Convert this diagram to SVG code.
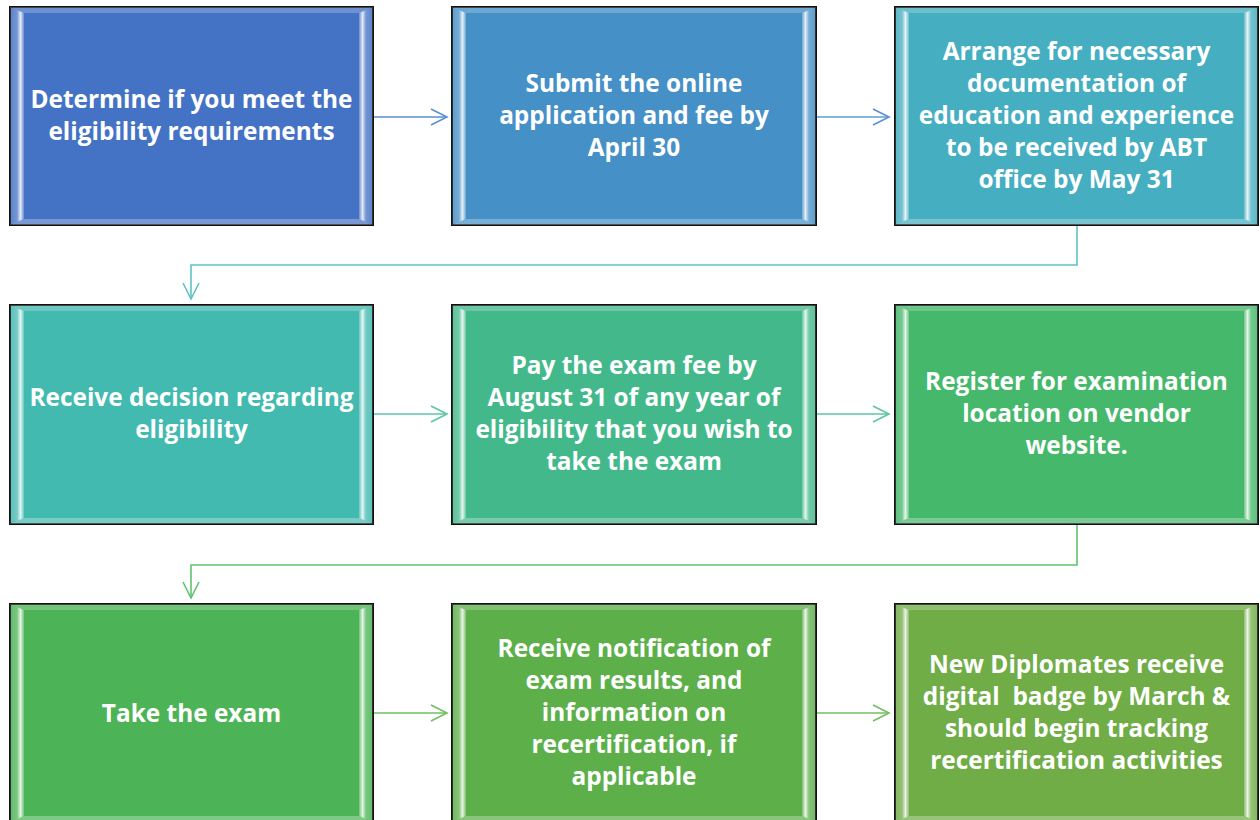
<svg xmlns="http://www.w3.org/2000/svg" width="1260" height="820" viewBox="0 0 1260 820">
  <defs>
    <style>
      .box { stroke: #111; stroke-width: 2; }
      .bevel-top { fill: #fff; fill-opacity: 0.22; }
      .bevel-bot { fill: #fff; fill-opacity: 0.28; }
      .bevel-l { fill: url(#gl); }
      .bevel-r { fill: url(#gr); }
      .label { font-family: "Open Sans", "Lato", sans-serif; font-weight: bold; font-size: 24.4px; fill: #fff; text-anchor: middle; }
      .conn { fill: none; stroke-width: 1.6; }
    </style>
    <linearGradient id="gl" x1="0" y1="0" x2="1" y2="0">
      <stop offset="0" stop-color="#fff" stop-opacity="0.12"/>
      <stop offset="0.5" stop-color="#fff" stop-opacity="0.25"/>
      <stop offset="0.75" stop-color="#fff" stop-opacity="0.85"/>
      <stop offset="1" stop-color="#fff" stop-opacity="0.2"/>
    </linearGradient>
    <linearGradient id="gr" x1="1" y1="0" x2="0" y2="0">
      <stop offset="0" stop-color="#fff" stop-opacity="0.12"/>
      <stop offset="0.5" stop-color="#fff" stop-opacity="0.25"/>
      <stop offset="0.75" stop-color="#fff" stop-opacity="0.85"/>
      <stop offset="1" stop-color="#fff" stop-opacity="0.2"/>
    </linearGradient>
    <marker id="a1" markerUnits="userSpaceOnUse" markerWidth="20" markerHeight="20" refX="17" refY="9" orient="auto">
      <path d="M1,1 L17,9 L1,17" fill="none" stroke="#5b8fd2" stroke-width="1.6"/>
    </marker>
    <marker id="a2" markerUnits="userSpaceOnUse" markerWidth="20" markerHeight="20" refX="17" refY="9" orient="auto">
      <path d="M1,1 L17,9 L1,17" fill="none" stroke="#5ec3c6" stroke-width="1.6"/>
    </marker>
    <marker id="a3" markerUnits="userSpaceOnUse" markerWidth="20" markerHeight="20" refX="17" refY="9" orient="auto">
      <path d="M1,1 L17,9 L1,17" fill="none" stroke="#5cc79e" stroke-width="1.6"/>
    </marker>
    <marker id="a4" markerUnits="userSpaceOnUse" markerWidth="20" markerHeight="20" refX="17" refY="9" orient="auto">
      <path d="M1,1 L17,9 L1,17" fill="none" stroke="#5ec46f" stroke-width="1.6"/>
    </marker>
    <marker id="a5" markerUnits="userSpaceOnUse" markerWidth="20" markerHeight="20" refX="17" refY="9" orient="auto">
      <path d="M1,1 L17,9 L1,17" fill="none" stroke="#72bf60" stroke-width="1.6"/>
    </marker>
  </defs>

  <rect width="1260" height="820" fill="#fff"/>

  <!-- connectors -->
  <g id="connectors">
    <path class="conn" stroke="#5b8fd2" marker-end="url(#a1)" d="M373,117 H447"/>
    <path class="conn" stroke="#5b9fd0" marker-end="url(#a1)" d="M816,117 H889"/>
    <path class="conn" stroke="#5ec3c6" marker-end="url(#a2)" d="M1077,225 V265 H191 V299"/>
    <path class="conn" stroke="#5cc4ae" marker-end="url(#a3)" d="M373,414 H447"/>
    <path class="conn" stroke="#5cc79e" marker-end="url(#a3)" d="M816,414 H889"/>
    <path class="conn" stroke="#5ec46f" marker-end="url(#a4)" d="M1077,524 V565 H191 V598"/>
    <path class="conn" stroke="#6cc062" marker-end="url(#a5)" d="M373,713 H447"/>
    <path class="conn" stroke="#72bf60" marker-end="url(#a5)" d="M816,713 H889"/>
  </g>

  <!-- step 1 -->
  <g id="step1" transform="translate(10,7)">
    <rect class="box" width="363" height="218" fill="#4472c4"/>
    <polygon class="bevel-top" points="0,0 363,0 349,6 14,6"/>
    <polygon class="bevel-bot" points="0,218 363,218 349,212 14,212"/>
    <polygon class="bevel-l" points="0,0 14,6 14,212 0,218"/>
    <polygon class="bevel-r" points="363,0 349,6 349,212 363,218"/>
    <text class="label"><tspan x="181.5" y="101">Determine if you meet the</tspan><tspan x="181.5" y="133">eligibility requirements</tspan></text>
  </g>

  <!-- step 2 -->
  <g id="step2" transform="translate(452,7)">
    <rect class="box" width="364" height="218" fill="#4590c7"/>
    <polygon class="bevel-top" points="0,0 364,0 350,6 14,6"/>
    <polygon class="bevel-bot" points="0,218 364,218 350,212 14,212"/>
    <polygon class="bevel-l" points="0,0 14,6 14,212 0,218"/>
    <polygon class="bevel-r" points="364,0 350,6 350,212 364,218"/>
    <text class="label"><tspan x="182" y="85">Submit the online</tspan><tspan x="182" y="117">application and fee by</tspan><tspan x="182" y="149">April 30</tspan></text>
  </g>

  <!-- step 3 -->
  <g id="step3" transform="translate(895,7)">
    <rect class="box" width="363" height="218" fill="#45aec1"/>
    <polygon class="bevel-top" points="0,0 363,0 349,6 14,6"/>
    <polygon class="bevel-bot" points="0,218 363,218 349,212 14,212"/>
    <polygon class="bevel-l" points="0,0 14,6 14,212 0,218"/>
    <polygon class="bevel-r" points="363,0 349,6 349,212 363,218"/>
    <text class="label"><tspan x="181.5" y="53">Arrange for necessary</tspan><tspan x="181.5" y="85">documentation of</tspan><tspan x="181.5" y="117">education and experience</tspan><tspan x="181.5" y="149">to be received by ABT</tspan><tspan x="181.5" y="181">office by May 31</tspan></text>
  </g>

  <!-- step 4 -->
  <g id="step4" transform="translate(10,305)">
    <rect class="box" width="363" height="219" fill="#42bab0"/>
    <polygon class="bevel-top" points="0,0 363,0 349,6 14,6"/>
    <polygon class="bevel-bot" points="0,219 363,219 349,213 14,213"/>
    <polygon class="bevel-l" points="0,0 14,6 14,213 0,219"/>
    <polygon class="bevel-r" points="363,0 349,6 349,213 363,219"/>
    <text class="label"><tspan x="181.5" y="101">Receive decision regarding</tspan><tspan x="181.5" y="133">eligibility</tspan></text>
  </g>

  <!-- step 5 -->
  <g id="step5" transform="translate(452,305)">
    <rect class="box" width="364" height="219" fill="#43b98b"/>
    <polygon class="bevel-top" points="0,0 364,0 350,6 14,6"/>
    <polygon class="bevel-bot" points="0,219 364,219 350,213 14,213"/>
    <polygon class="bevel-l" points="0,0 14,6 14,213 0,219"/>
    <polygon class="bevel-r" points="364,0 350,6 350,213 364,219"/>
    <text class="label"><tspan x="182" y="69">Pay the exam fee by</tspan><tspan x="182" y="101">August 31 of any year of</tspan><tspan x="182" y="133">eligibility that you wish to</tspan><tspan x="182" y="165">take the exam</tspan></text>
  </g>

  <!-- step 6 -->
  <g id="step6" transform="translate(895,305)">
    <rect class="box" width="363" height="219" fill="#45b86b"/>
    <polygon class="bevel-top" points="0,0 363,0 349,6 14,6"/>
    <polygon class="bevel-bot" points="0,219 363,219 349,213 14,213"/>
    <polygon class="bevel-l" points="0,0 14,6 14,213 0,219"/>
    <polygon class="bevel-r" points="363,0 349,6 349,213 363,219"/>
    <text class="label"><tspan x="181.5" y="85">Register for examination</tspan><tspan x="181.5" y="117">location on vendor</tspan><tspan x="181.5" y="149">website.</tspan></text>
  </g>

  <!-- step 7 -->
  <g id="step7" transform="translate(10,604)">
    <rect class="box" width="363" height="218" fill="#4cb456"/>
    <polygon class="bevel-top" points="0,0 363,0 349,6 14,6"/>
    <polygon class="bevel-bot" points="0,218 363,218 349,212 14,212"/>
    <polygon class="bevel-l" points="0,0 14,6 14,212 0,218"/>
    <polygon class="bevel-r" points="363,0 349,6 349,212 363,218"/>
    <text class="label"><tspan x="181.5" y="118">Take the exam</tspan></text>
  </g>

  <!-- step 8 -->
  <g id="step8" transform="translate(452,604)">
    <rect class="box" width="364" height="218" fill="#5daf4a"/>
    <polygon class="bevel-top" points="0,0 364,0 350,6 14,6"/>
    <polygon class="bevel-bot" points="0,218 364,218 350,212 14,212"/>
    <polygon class="bevel-l" points="0,0 14,6 14,212 0,218"/>
    <polygon class="bevel-r" points="364,0 350,6 350,212 364,218"/>
    <text class="label"><tspan x="182" y="53">Receive notification of</tspan><tspan x="182" y="85">exam results, and</tspan><tspan x="182" y="117">information on</tspan><tspan x="182" y="149">recertification, if</tspan><tspan x="182" y="181">applicable</tspan></text>
  </g>

  <!-- step 9 -->
  <g id="step9" transform="translate(895,604)">
    <rect class="box" width="363" height="218" fill="#70ad47"/>
    <polygon class="bevel-top" points="0,0 363,0 349,6 14,6"/>
    <polygon class="bevel-bot" points="0,218 363,218 349,212 14,212"/>
    <polygon class="bevel-l" points="0,0 14,6 14,212 0,218"/>
    <polygon class="bevel-r" points="363,0 349,6 349,212 363,218"/>
    <text class="label"><tspan x="181.5" y="69">New Diplomates receive</tspan><tspan x="181.5" y="101" xml:space="preserve">digital  badge by March &amp;</tspan><tspan x="181.5" y="133">should begin tracking</tspan><tspan x="181.5" y="165">recertification activities</tspan></text>
  </g>
</svg>
